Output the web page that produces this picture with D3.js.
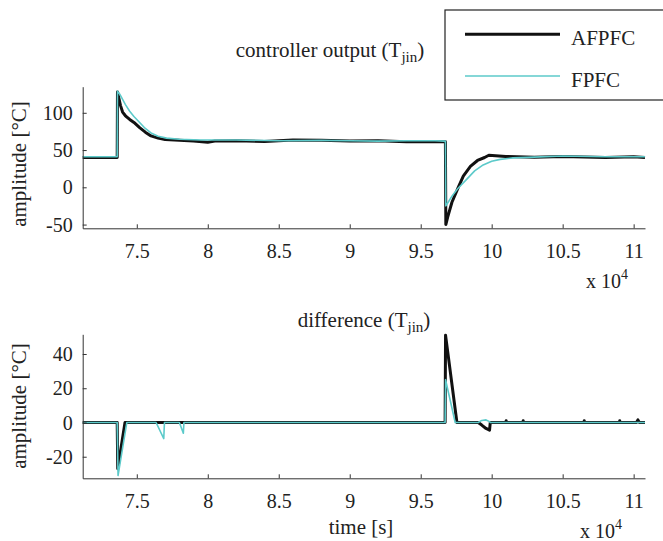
<!DOCTYPE html>
<html><head><meta charset="utf-8">
<script src="https://cdn.jsdelivr.net/npm/d3@7/dist/d3.min.js"></script>
<style>body{margin:0;background:#fff}svg{display:block}text{font-family:"Liberation Serif","Times New Roman",serif;fill:#222}</style>
</head><body><svg id="c" width="663" height="541"></svg>
<script>
// time in units of 10^4 s
const xTicks = [7.5, 8, 8.5, 9, 9.5, 10, 10.5, 11];
const yTicksTop = [-50, 0, 50, 100];
const yTicksBot = [-20, 0, 20, 40];
const seriesNames = ["AFPFC", "FPFC"];

// controller output (T_jin)
const afpfcTop = [[7.119,40],[7.362,40],[7.364,128],[7.372,121],[7.385,110],[7.40,101],[7.42,96],[7.45,91],[7.48,87],[7.52,80],[7.56,74],[7.60,69],[7.65,66],[7.70,64],[7.80,63],[7.90,62],[8.0,60.5],[8.05,62],[8.2,62.5],[8.4,61.5],[8.6,63.5],[8.8,63],[9.0,62],[9.2,62.5],[9.4,61],[9.6,61],[9.674,61],[9.677,-50],[9.69,-40],[9.72,-20],[9.76,-2],[9.80,15],[9.85,28],[9.90,36],[9.95,40],[9.98,43],[10.1,41.5],[10.3,40.5],[10.5,41.5],[10.8,40],[11.0,41],[11.08,40]];
const fpfcTop = [[7.119,41],[7.362,41],[7.364,129],[7.38,125],[7.40,118],[7.42,111],[7.45,102],[7.48,95],[7.52,87],[7.56,79],[7.60,73],[7.65,68.5],[7.71,66],[7.80,64.5],[7.95,63.5],[8.2,63.5],[8.5,62.5],[8.8,63],[9.0,62.5],[9.2,62],[9.4,62.5],[9.6,62.5],[9.674,62],[9.677,-25],[9.69,-21],[9.72,-12],[9.76,-2],[9.82,10],[9.88,22],[9.94,30],[10.0,35],[10.06,37.5],[10.15,39.5],[10.3,40.5],[10.5,42],[10.8,41],[11.08,41]];

// difference (T_jin)
const afpfcBot = [[7.119,0],[7.362,0],[7.366,-27],[7.417,0],[7.64,0],[7.905,0],[9.672,0],[9.675,51],[9.755,0],[9.905,0],[9.93,-1.5],[9.96,-3.5],[9.985,-4.5],[9.99,0],[10.1,0],[10.102,1],[10.105,0],[10.22,0],[10.222,1],[10.225,0],[10.65,0],[10.652,1],[10.655,0],[10.9,0],[10.902,1],[10.905,0],[11.02,0],[11.03,1.5],[11.04,0],[11.08,0]];
const fpfcBot = [[7.119,0],[7.362,0],[7.368,-31],[7.43,0],[7.636,0],[7.69,-9.4],[7.695,0],[7.80,0],[7.828,-6.3],[7.832,0],[9.672,0],[9.675,25],[9.743,0],[9.905,0],[9.93,1.2],[9.96,1.5],[9.985,0.5],[9.99,0],[11.08,0]];

const colors = {AFPFC: "#111", FPFC: "#5ccaca"};
const svg = d3.select("#c");
const x = d3.scaleLinear().domain([7.119, 11.08]).range([82.7, 645]);
const yTop = d3.scaleLinear().domain([-55, 135]).range([228.3, 86.7]);
const yBot = d3.scaleLinear().domain([-32.6, 51.5]).range([478.3, 334.3]);

function panel(y, yTicks, a, f, axisY) {
  const g = svg.append("g");
  const line = d3.line().x(d => x(d[0])).y(d => y(d[1]));
  g.append("path").datum(a).attr("d", line).attr("fill", "none")
    .attr("stroke", colors.AFPFC).attr("stroke-width", 3).attr("stroke-linejoin", "round");
  g.append("path").datum(f).attr("d", line).attr("fill", "none")
    .attr("stroke", colors.FPFC).attr("stroke-width", 1.6).attr("stroke-linejoin", "round");
  const xa = g.append("g").attr("transform", `translate(0,${axisY})`)
    .call(d3.axisBottom(x).tickValues(xTicks).tickSize(-4).tickSizeOuter(0).tickFormat(d => String(d)));
  const ya = g.append("g").attr("transform", `translate(${x.range()[0]},0)`)
    .call(d3.axisLeft(y).tickValues(yTicks).tickSize(-4).tickSizeOuter(0).tickFormat(d => String(d)));
  [xa, ya].forEach(s => {
    s.selectAll("path,line").attr("stroke", "#333").attr("stroke-width", 1);
    s.selectAll("text").attr("font-size", 20).attr("fill", "#222")
      .attr("font-family", '"Liberation Serif","Times New Roman",serif');
  });
  xa.selectAll(".tick text").attr("y", 0).attr("dy", 0).attr("transform", "translate(0,30)");
  ya.selectAll(".tick text").attr("x", -10).attr("dy", "0.33em");
  return g;
}
panel(yTop, yTicksTop, afpfcTop, fpfcTop, 228.3);
panel(yBot, yTicksBot, afpfcBot, fpfcBot, 478.3);

function title(tx, ty, main) {
  const t = svg.append("text").attr("x", tx).attr("y", ty).attr("text-anchor", "middle").attr("font-size", 21);
  t.append("tspan").text(main + " (T");
  t.append("tspan").attr("font-size", 15).attr("dy", 5).text("jin");
  t.append("tspan").attr("dy", -5).text(")");
}
title(330, 57, "controller output");
title(364, 327, "difference");

function ylabel(cy) {
  svg.append("text").attr("transform", `translate(26,${cy}) rotate(-90)`)
    .attr("text-anchor", "middle").attr("font-size", 21).text("amplitude [°C]");
}
ylabel(164); ylabel(406);

svg.append("text").attr("x", 361).attr("y", 534).attr("text-anchor", "middle").attr("font-size", 21).text("time [s]");

function mult(xx, yy) {
  const t = svg.append("text").attr("x", xx).attr("y", yy).attr("font-size", 20);
  t.append("tspan").text("x 10");
  t.append("tspan").attr("font-size", 14).attr("dy", -9).text("4");
}
mult(586, 288);
mult(580, 538);

// legend
const lg = svg.append("g");
lg.append("rect").attr("x", 445).attr("y", 10).attr("width", 230).attr("height", 90)
  .attr("fill", "#fff").attr("stroke", "#222").attr("stroke-width", 1.2);
seriesNames.forEach((n, i) => {
  const ly = 34.3 + i * 41.7;
  lg.append("line").attr("x1", 465).attr("x2", 560).attr("y1", ly).attr("y2", ly)
    .attr("stroke", colors[n]).attr("stroke-width", n === "AFPFC" ? 3 : 1.6);
  lg.append("text").attr("x", 571).attr("y", ly + 11).attr("font-size", 21).text(n);
});
</script></body></html>
